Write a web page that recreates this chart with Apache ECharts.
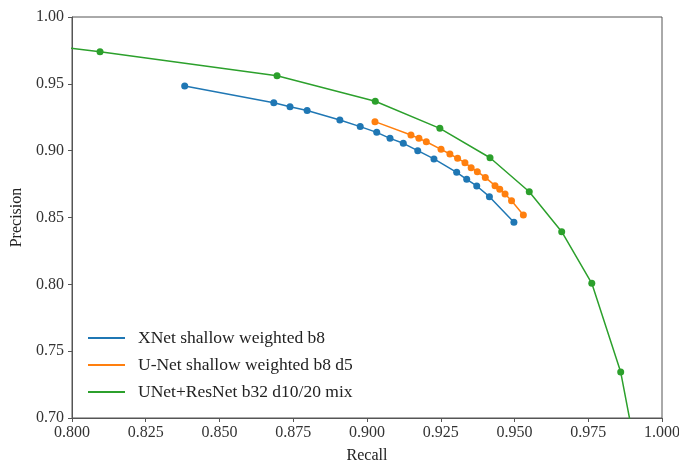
<!DOCTYPE html>
<html>
<head>
<meta charset="utf-8">
<script src="https://cdn.jsdelivr.net/npm/echarts@6/dist/echarts.min.js"></script>
<style>
  html, body { margin: 0; padding: 0; background: #fff; }
  #main { width: 679px; height: 464px; }
</style>
</head>
<body>
<div id="main"></div>
<script>
// values
var xnetRecall = [0.8382, 0.8684, 0.8739, 0.8797, 0.8908, 0.8977, 0.9033, 0.9078, 0.9123, 0.9172, 0.9227, 0.9304, 0.9338, 0.9372, 0.9415, 0.9498];
var xnetPrecision = [0.9484, 0.9359, 0.9329, 0.9300, 0.9229, 0.9180, 0.9137, 0.9092, 0.9055, 0.9000, 0.8938, 0.8838, 0.8786, 0.8736, 0.8656, 0.8464];

var unetRecall = [0.9027, 0.9149, 0.9176, 0.9201, 0.9251, 0.9281, 0.9307, 0.9332, 0.9353, 0.9374, 0.9401, 0.9434, 0.9450, 0.9468, 0.9490, 0.9530];
var unetPrecision = [0.9217, 0.9117, 0.9092, 0.9067, 0.9010, 0.8975, 0.8943, 0.8910, 0.8873, 0.8843, 0.8800, 0.8738, 0.8711, 0.8676, 0.8626, 0.8519];

// first and last points sit outside the visible axes
var mixRecall = [0.7800, 0.8095, 0.8695, 0.9028, 0.9247, 0.9417, 0.9550, 0.9660, 0.9762, 0.9860, 0.9907];
var mixPrecision = [0.9820, 0.9740, 0.9560, 0.9370, 0.9167, 0.8947, 0.8693, 0.8394, 0.8008, 0.7344, 0.6800];

var seriesNames = ['XNet shallow weighted b8', 'U-Net shallow weighted b8 d5', 'UNet+ResNet b32 d10/20 mix'];
var colors = ['#1f77b4', '#ff7f0e', '#2ca02c'];

function pairs(xs, ys) {
  var out = [];
  for (var i = 0; i < xs.length; i++) out.push([xs[i], ys[i]]);
  return out;
}

var font = "'Liberation Serif', 'DejaVu Serif', serif";
var allData = [pairs(xnetRecall, xnetPrecision), pairs(unetRecall, unetPrecision), pairs(mixRecall, mixPrecision)];

var chart = echarts.init(document.getElementById('main'));
chart.setOption({
  animation: false,
  backgroundColor: '#fff',
  textStyle: { fontFamily: font },
  grid: {
    left: 72, right: 17, top: 17, bottom: 46,
    containLabel: false,
    outerBoundsMode: 'none',
    show: true, borderColor: '#555', borderWidth: 1, backgroundColor: 'transparent'
  },
  legend: {
    orient: 'vertical',
    left: 83, top: 324,
    icon: 'rect',
    itemWidth: 37, itemHeight: 2,
    itemGap: 9,
    data: seriesNames,
    textStyle: { fontFamily: font, fontSize: 17.5, lineHeight: 18, color: '#222', padding: [0, 0, 0, 8] }
  },
  xAxis: {
    type: 'value',
    min: 0.8, max: 1.0, interval: 0.025,
    name: 'Recall', nameLocation: 'middle', nameGap: 30,
    nameTextStyle: { fontFamily: font, fontSize: 16, color: '#222' },
    axisLine: { lineStyle: { color: '#555', width: 1 } },
    axisTick: { show: true, length: 4, lineStyle: { color: '#555' } },
    axisLabel: { fontFamily: font, fontSize: 16, color: '#333', margin: 7,
      formatter: function (v) { return v.toFixed(3); } },
    splitLine: { show: false }
  },
  yAxis: {
    type: 'value',
    min: 0.7, max: 1.0, interval: 0.05,
    name: 'Precision', nameLocation: 'middle', nameGap: 40,
    nameTextStyle: { fontFamily: font, fontSize: 16, color: '#222' },
    axisLine: { show: true, lineStyle: { color: '#555', width: 1 } },
    axisTick: { show: true, length: 4, lineStyle: { color: '#555' } },
    axisLabel: { fontFamily: font, fontSize: 16, color: '#333', margin: 8,
      formatter: function (v) { return v.toFixed(2); } },
    splitLine: { show: false }
  },
  series: seriesNames.map(function (name, i) {
    return {
      name: name,
      type: 'line',
      data: allData[i],
      clip: true,
      symbol: 'circle',
      symbolSize: 7,
      showAllSymbol: true,
      itemStyle: { color: colors[i] },
      lineStyle: { color: colors[i], width: 1.5 }
    };
  })
});
</script>
</body>
</html>
